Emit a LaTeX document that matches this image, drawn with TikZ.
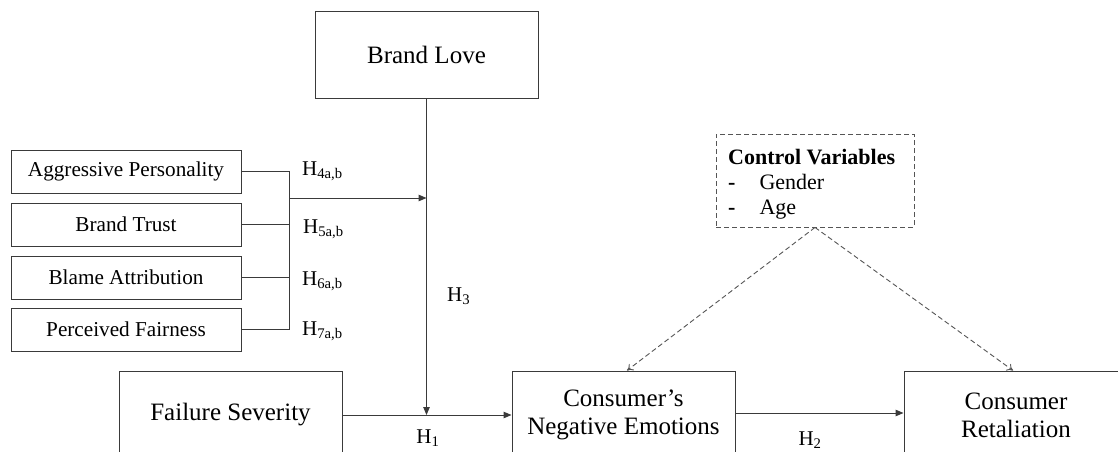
\documentclass[tikz,border=0pt]{standalone}
\usepackage{fontspec}
\setmainfont{Liberation Serif}
\usetikzlibrary{arrows.meta}
\definecolor{linecol}{HTML}{3A3A3A}
\definecolor{dashcol}{HTML}{555555}
\begin{document}
\begin{tikzpicture}[x=1pt,y=-1pt,
  bigbox/.style={draw=linecol, line width=1pt, align=center, inner sep=0pt,
    font=\fontsize{25}{28}\selectfont},
  smallbox/.style={draw=linecol, line width=1pt, align=center, inner sep=0pt,
    minimum width=230pt, minimum height=43pt, font=\fontsize{21.2}{24}\selectfont},
  conn/.style={draw=linecol, line width=1pt},
  arr/.style={conn, -{Triangle[length=8pt,width=6.5pt]}},
  darr/.style={draw=dashcol, line width=0.9pt, dash pattern=on 5pt off 3pt,
    -{To[length=6pt,width=8pt]}},
  hlab/.style={font=\fontsize{21}{24}\selectfont, inner sep=0pt}
]
\useasboundingbox (0,0) rectangle (1118,452);
% main boxes
\node[bigbox, minimum width=223pt, minimum height=86pt] (BL) at (426.5,55) {Brand Love};
\node[bigbox, minimum width=223pt, minimum height=88pt] (FS) at (230.5,415) {Failure Severity};
\node[bigbox, minimum width=223pt, minimum height=88pt] (CNE) at (623.5,415) {Consumer’s\\Negative Emotions};
\node[bigbox, minimum width=224pt, minimum height=88pt] (CR) at (1016,415) {Consumer\\Retaliation};
% moderator boxes
\node[smallbox] (AP) at (126,171.5) {Aggressive Personality};
\node[smallbox] (BT) at (126,224.5) {Brand Trust};
\node[smallbox] (BA) at (126,277.5) {Blame Attribution};
\node[smallbox] (PF) at (126,329.5) {Perceived Fairness};
% control box
\node[draw=dashcol, line width=0.9pt, dash pattern=on 5pt off 3pt,
      minimum width=198pt, minimum height=93pt, inner sep=0pt] (ctrl) at (815,180.5) {};
\node[anchor=north west, inner sep=0pt, align=left, font=\fontsize{22}{25}\selectfont] (ctrltext) at (728,147)
  {\begin{tabular}{@{}l@{\hspace{24pt}}l@{}}
   \multicolumn{2}{@{}l@{}}{\textbf{Control Variables}}\\
   \textbf{-} & Gender\\
   \textbf{-} & Age
   \end{tabular}};
% junction
\coordinate (J) at (289,198);
\draw[conn] (AP.east) -- (AP.east -| J) -- (PF.east -| J) -- (PF.east);
\draw[conn] (BT.east) -- (BT.east -| J);
\draw[conn] (BA.east) -- (BA.east -| J);
\draw[arr] (J) -- (J -| BL.south);
% main arrows
\draw[arr] (BL.south) -- (BL.south |- FS.east);
\draw[arr] (FS.east) -- (CNE.west);
\draw[arr] ([yshift=2pt]CNE.east) -- ([yshift=2pt]CR.west);
% control arrows
\draw[darr] (ctrl.south) -- ([xshift=3.5pt]CNE.north);
\draw[darr] (ctrl.south) -- ([xshift=-3pt]CR.north);
% labels
\node[hlab, anchor=west] (h4) at (302,171) {H\textsubscript{4a,b}};
\node[hlab, anchor=west] (h5) at (303,229) {H\textsubscript{5a,b}};
\node[hlab, anchor=west] (h6) at (302,281) {H\textsubscript{6a,b}};
\node[hlab, anchor=west] (h7) at (302,331) {H\textsubscript{7a,b}};
\node[hlab, anchor=west] (h3) at (447,296) {H\textsubscript{3}};
\node[hlab] (h1) at (428,438) {H\textsubscript{1}};
\node[hlab] (h2) at (810,440) {H\textsubscript{2}};
\end{tikzpicture}
\end{document}
